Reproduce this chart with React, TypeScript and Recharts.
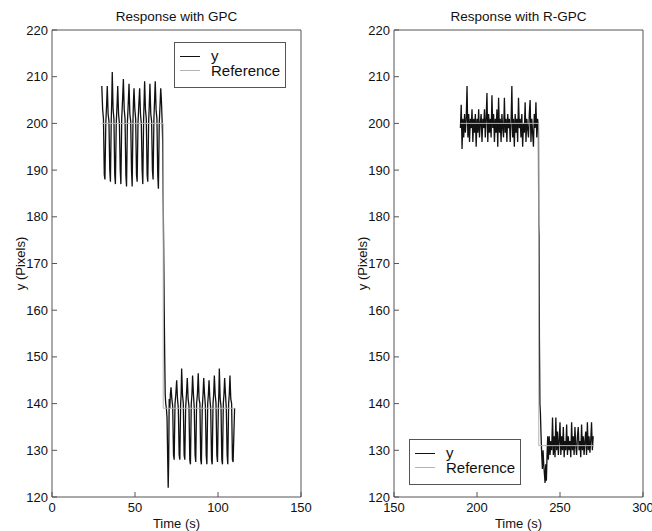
import { LineChart, Line, XAxis, YAxis, Legend } from 'recharts'

const FONT = '"Liberation Sans", Arial, Helvetica, sans-serif'
const FRAME = '#555'
const INK = '#111'
const REF_GRAY = '#b4b4b4'

const yTicks = [120, 130, 140, 150, 160, 170, 180, 190, 200, 210, 220]
const gpcTimeTicks = [0, 50, 100, 150]
const rgpcTimeTicks = [150, 200, 250, 300]

// GPC run, [time (s), y (pixels)]
const gpcResponse: [number, number][] = [
  [30.0, 208], [30.5, 203], [31.0, 201], [31.5, 189], [31.9, 188], [32.4, 200], [32.9, 204],
  [33.3, 208], [33.8, 202], [34.3, 200.5], [34.8, 190], [35.2, 187.5], [35.7, 201], [36.0, 205],
  [36.3, 211], [36.8, 203], [37.3, 201], [37.8, 189], [38.2, 187], [38.7, 200], [39.2, 204],
  [39.6, 208], [40.1, 202], [40.6, 200], [41.1, 190], [41.5, 187], [42.0, 201], [42.5, 205],
  [43.0, 209.5], [43.5, 203], [44.0, 201], [44.5, 189], [44.9, 186.5], [45.4, 200], [45.9, 204],
  [46.4, 208.5], [46.9, 202], [47.4, 200.5], [47.9, 190], [48.3, 186.5], [48.8, 201], [49.1, 205],
  [49.4, 207.5], [49.9, 203], [50.4, 201], [50.9, 189], [51.3, 187.5], [51.8, 200], [52.3, 204],
  [52.8, 207.5], [53.3, 202], [53.8, 200], [54.3, 190], [54.7, 187], [55.2, 201], [55.5, 205],
  [55.8, 209], [56.3, 203], [56.8, 201], [57.3, 189], [57.7, 187.5], [58.2, 200], [58.6, 204],
  [59.0, 208.5], [59.5, 202], [60.0, 200.5], [60.5, 190], [60.9, 188], [61.4, 201], [61.8, 205],
  [62.2, 209], [62.7, 203], [63.2, 201], [63.7, 189], [64.1, 186], [64.6, 200], [65.1, 204],
  [65.5, 207.5], [65.9, 205], [66.3, 201], [66.7, 196], [67.0, 183], [67.3, 172], [67.6, 160],
  [67.9, 150], [68.2, 142], [68.5, 140], [68.9, 139], [69.3, 137], [69.7, 128], [70.0, 122],
  [70.3, 128], [70.6, 141], [71.0, 139], [71.3, 142],
  [71.7, 143.5], [72.2, 141], [72.7, 139.5], [73.2, 129], [73.6, 128], [74.1, 140], [74.6, 142],
  [75.1, 145], [75.6, 141], [76.1, 139], [76.6, 129], [77.0, 128], [77.5, 140], [77.8, 142],
  [78.1, 147.5], [78.6, 142], [79.1, 140], [79.6, 129], [80.0, 128], [80.5, 139], [81.0, 142],
  [81.5, 145.5], [82.0, 141], [82.5, 139.5], [83.0, 128], [83.4, 127], [83.9, 140], [84.3, 142],
  [84.7, 146], [85.2, 142], [85.7, 139], [86.2, 129], [86.6, 127.5], [87.1, 140], [87.6, 142],
  [88.1, 146.5], [88.6, 141], [89.1, 140], [89.6, 128], [90.0, 127], [90.5, 139], [91.0, 142],
  [91.4, 145.5], [91.9, 142], [92.4, 139.5], [92.9, 129], [93.3, 127], [93.8, 140], [94.2, 142],
  [94.6, 145], [95.1, 141], [95.6, 139], [96.1, 128], [96.5, 127], [97.0, 140], [97.4, 142],
  [97.8, 146], [98.3, 142], [98.8, 140], [99.3, 129], [99.7, 127.5], [100.2, 139], [100.5, 142],
  [100.8, 147.5], [101.3, 141], [101.8, 139.5], [102.3, 128], [102.7, 127], [103.2, 140], [103.6, 142],
  [104.0, 145.5], [104.5, 142], [105.0, 139], [105.5, 129], [105.9, 127], [106.4, 140], [106.8, 142],
  [107.2, 146], [107.7, 141], [108.2, 140], [108.7, 128], [109.1, 127.5], [109.6, 134], [110.0, 139],
]

const gpcReference: [number, number][] = [[30, 200], [67, 200], [67, 139], [110, 139]]

// R-GPC run, [time (s), y (pixels)]
const rgpcResponse: [number, number][] = [
  [190.0, 199], [190.5, 204], [191.0, 194.5], [191.5, 201], [192.0, 197], [192.5, 202],
  [193.0, 198], [193.5, 201], [194.0, 208], [194.5, 197], [195.0, 202], [195.5, 196],
  [196.0, 201], [196.5, 199], [197.0, 203], [197.5, 196], [198.0, 201], [198.5, 198],
  [199.0, 202], [199.5, 195], [200.0, 201], [200.5, 198], [201.0, 203], [201.5, 197],
  [202.0, 200], [202.5, 202], [203.0, 196], [203.5, 201], [204.0, 199], [204.5, 203],
  [205.0, 197], [205.5, 201], [206.0, 206.5], [206.5, 196], [207.0, 202], [207.5, 198],
  [208.0, 201], [208.5, 197], [209.0, 206], [209.5, 199], [210.0, 202], [210.5, 196],
  [211.0, 201], [211.5, 198], [212.0, 203], [212.5, 195], [213.0, 205.5], [213.5, 198],
  [214.0, 201], [214.5, 196], [215.0, 202], [215.5, 199], [216.0, 197], [216.5, 205.5],
  [217.0, 198], [217.5, 201], [218.0, 196], [218.5, 202], [219.0, 199], [219.5, 201],
  [220.0, 196], [220.5, 200], [221.0, 208], [221.5, 197], [222.0, 201], [222.5, 195],
  [223.0, 202], [223.5, 198], [224.0, 201], [224.5, 196], [225.0, 205.5], [225.5, 199],
  [226.0, 201], [226.5, 197], [227.0, 202], [227.5, 195], [228.0, 200], [228.5, 198],
  [229.0, 204.5], [229.5, 196], [230.0, 201], [230.5, 199], [231.0, 197], [231.5, 202],
  [232.0, 205], [232.5, 196], [233.0, 201], [233.5, 198], [234.0, 195], [234.5, 202],
  [235.0, 199], [235.5, 204.5], [236.0, 197], [236.5, 201], [237.0, 199],
  [237.2, 178], [237.4, 176], [237.6, 154], [237.9, 140], [238.2, 138], [238.6, 133],
  [239.0, 129], [239.4, 126], [239.8, 130], [240.2, 127], [240.6, 125], [241.0, 123],
  [241.4, 127], [241.8, 123.5], [242.2, 129], [242.6, 133],
  [243.0, 128], [243.5, 133], [244.0, 129], [244.5, 132], [245.0, 130], [245.5, 137],
  [246.0, 129], [246.5, 133], [247.0, 128.5], [247.5, 137], [248.0, 130], [248.5, 134],
  [249.0, 129], [249.5, 132], [250.0, 136], [250.5, 129], [251.0, 133], [251.5, 130],
  [252.0, 135], [252.5, 128.5], [253.0, 132], [253.5, 130], [254.0, 135.5], [254.5, 129],
  [255.0, 133], [255.5, 130], [256.0, 132], [256.5, 128.5], [257.0, 136], [257.5, 130],
  [258.0, 133], [258.5, 129], [259.0, 135], [259.5, 131], [260.0, 129], [260.5, 133],
  [261.0, 135], [261.5, 130], [262.0, 132], [262.5, 128.5], [263.0, 135.5], [263.5, 130],
  [264.0, 133], [264.5, 129], [265.0, 132], [265.5, 134], [266.0, 129], [266.5, 136],
  [267.0, 130], [267.5, 133], [268.0, 129.5], [268.5, 132], [269.0, 136], [269.5, 130],
  [270.0, 133],
]

const rgpcReference: [number, number][] = [[190, 200], [237.2, 200], [237.2, 131], [270, 131]]

const toRows = (pts: [number, number][]) => pts.map(([t, v]) => ({ t, v }))

const W = 326
const H = 531

const BottomTick = ({ x, y, payload }: any) => (
  <g>
    <line x1={x} x2={x} y1={y} y2={y - 5} stroke={FRAME} />
    <text x={x} y={y + 15} textAnchor="middle" fontSize={13} fontFamily={FONT} fill={INK}>
      {payload.value}
    </text>
  </g>
)

const TopTick = ({ x, y }: any) => <line x1={x} x2={x} y1={y} y2={y + 5} stroke={FRAME} />

const LeftTick = ({ x, y, payload }: any) => (
  <g>
    <line x1={x} x2={x + 5} y1={y} y2={y} stroke={FRAME} />
    <text x={x - 4} y={y + 4.5} textAnchor="end" fontSize={13} fontFamily={FONT} fill={INK}>
      {payload.value}
    </text>
  </g>
)

const RightTick = ({ x, y }: any) => <line x1={x} x2={x - 5} y1={y} y2={y} stroke={FRAME} />

const TitleLabel = (text: string) => ({ viewBox }: any) => (
  <text
    x={viewBox.x + viewBox.width / 2}
    y={viewBox.y - 8}
    textAnchor="middle"
    fontSize={13.5}
    fontFamily={FONT}
    fill={INK}
  >
    {text}
  </text>
)

const TimeLabel = ({ viewBox }: any) => (
  <text
    x={viewBox.x + viewBox.width / 2}
    y={viewBox.y + 31}
    textAnchor="middle"
    fontSize={13}
    fontFamily={FONT}
    fill={INK}
  >
    Time (s)
  </text>
)

const PixelsLabel = ({ viewBox }: any) => {
  const cx = viewBox.x + viewBox.width - 32
  const cy = viewBox.y + viewBox.height / 2
  return (
    <text
      x={cx}
      y={cy}
      transform={`rotate(-90, ${cx}, ${cy})`}
      textAnchor="middle"
      dominantBaseline="central"
      fontSize={13}
      fontFamily={FONT}
      fill={INK}
    >
      y (Pixels)
    </text>
  )
}

const LegendBox = () => (
  <svg width={112} height={46} style={{ display: 'block' }}>
    <rect x={0.5} y={0.5} width={111} height={45} fill="#fff" stroke={FRAME} />
    <line x1={6} x2={26} y1={14.5} y2={14.5} stroke={INK} />
    <text x={37} y={18.5} fontSize={15} fontFamily={FONT} fill={INK}>y</text>
    <line x1={6} x2={26} y1={28.5} y2={28.5} stroke={REF_GRAY} />
    <text x={37} y={34} fontSize={15} fontFamily={FONT} fill={INK}>Reference</text>
  </svg>
)

type PanelProps = {
  title: string
  domain: [number, number]
  ticks: number[]
  response: [number, number][]
  reference: [number, number][]
  marginLeft: number
  marginRight: number
  legendLeft: number
  legendTop: number
}

function Panel(p: PanelProps) {
  return (
    <LineChart
      width={W}
      height={H}
      margin={{ top: 29, right: p.marginRight, bottom: 4, left: p.marginLeft }}
    >
      <XAxis
        xAxisId="bottom"
        dataKey="t"
        type="number"
        domain={p.domain}
        ticks={p.ticks}
        interval={0}
        height={30}
        axisLine={{ stroke: FRAME }}
        tickLine={false}
        tickSize={0}
        tickMargin={0}
        tick={<BottomTick />}
        label={<TimeLabel />}
      />
      <XAxis
        xAxisId="top"
        orientation="top"
        dataKey="t"
        type="number"
        domain={p.domain}
        ticks={p.ticks}
        interval={0}
        height={1}
        axisLine={{ stroke: FRAME }}
        tickLine={false}
        tickSize={0}
        tickMargin={0}
        tick={<TopTick />}
        label={TitleLabel(p.title)}
      />
      <YAxis
        yAxisId="left"
        type="number"
        domain={[120, 220]}
        ticks={yTicks}
        interval={0}
        width={40}
        axisLine={{ stroke: FRAME }}
        tickLine={false}
        tickSize={0}
        tickMargin={0}
        tick={<LeftTick />}
        label={<PixelsLabel />}
      />
      <YAxis
        yAxisId="right"
        orientation="right"
        type="number"
        domain={[120, 220]}
        ticks={yTicks}
        interval={0}
        width={1}
        axisLine={{ stroke: FRAME }}
        tickLine={false}
        tickSize={0}
        tickMargin={0}
        tick={<RightTick />}
      />
      <Line
        xAxisId="bottom"
        yAxisId="left"
        data={toRows(p.response)}
        dataKey="v"
        name="y"
        type="linear"
        stroke={INK}
        strokeWidth={1.3}
        dot={false}
        isAnimationActive={false}
      />
      <Line
        xAxisId="bottom"
        yAxisId="left"
        data={toRows(p.reference)}
        dataKey="v"
        name="Reference"
        type="linear"
        stroke={REF_GRAY}
        strokeWidth={1}
        dot={false}
        isAnimationActive={false}
      />
      <Legend
        layout="horizontal"
        verticalAlign="middle"
        align="center"
        content={() => <LegendBox />}
        wrapperStyle={{ left: p.legendLeft, top: p.legendTop, width: 112, height: 46 }}
      />
    </LineChart>
  )
}

export default function App() {
  return (
    <div
      style={{
        position: 'absolute',
        left: 0,
        top: 0,
        width: 652,
        height: 531,
        background: '#fff',
        fontFamily: FONT,
        display: 'flex',
        overflow: 'hidden',
      }}
    >
      <Panel
        title="Response with GPC"
        domain={[0, 150]}
        ticks={gpcTimeTicks}
        response={gpcResponse}
        reference={gpcReference}
        marginLeft={12}
        marginRight={24}
        legendLeft={174}
        legendTop={42}
      />
      <Panel
        title="Response with R-GPC"
        domain={[150, 300]}
        ticks={rgpcTimeTicks}
        response={rgpcResponse}
        reference={rgpcReference}
        marginLeft={28}
        marginRight={8}
        legendLeft={83}
        legendTop={439}
      />
    </div>
  )
}
